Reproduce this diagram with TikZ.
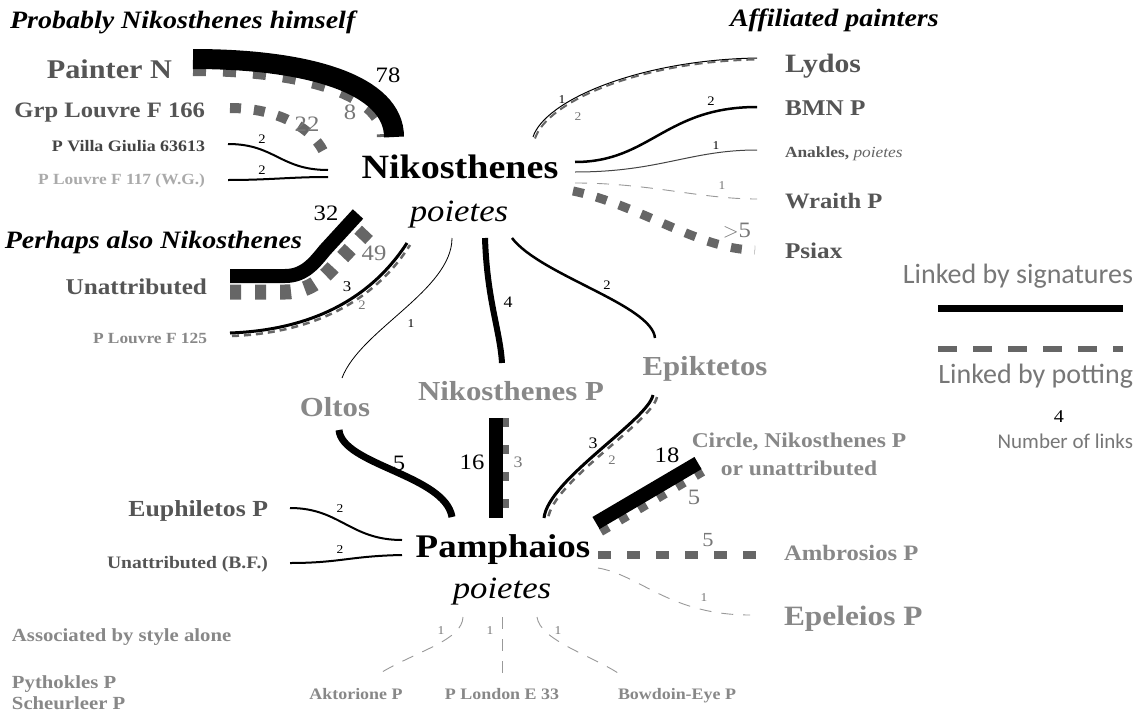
\documentclass[tikz,border=0pt]{standalone}
\usepackage{fontspec}
\setmainfont{Liberation Serif}[FakeStretch=1.12]
\newfontfamily\legendfont{Carlito}
\newcommand\fsz[1]{\fontsize{#1}{#1}\selectfont}
\definecolor{tdark}{HTML}{555555}
\definecolor{tmid}{HTML}{888888}
\definecolor{tlight}{HTML}{AAAAAA}
\definecolor{tsmall}{HTML}{444444}
\definecolor{potgray}{HTML}{666666}
\definecolor{thingray}{HTML}{999999}
\definecolor{numgray}{HTML}{777777}
\begin{document}
\begin{tikzpicture}[x=1pt,y=-1pt,
  every node/.style={inner sep=0pt,outer sep=0pt},
  sig/.style={draw=black,line width=#1},
  pot/.style={draw=potgray,line width=#1},
  thin dash/.style={draw=thingray,line width=0.9,dash pattern=on 12pt off 10pt},
  hdr/.style={font=\bfseries\itshape\fsz{25},text=black},
  big/.style={font=\bfseries\fsz{#1}},
  numb/.style={font=\fsz{#1},text=black},
  numg/.style={font=\fsz{#1},text=numgray},
  leg/.style={font=\legendfont\fsz{#1},text=numgray}]
\useasboundingbox[fill=white] (0,0) rectangle (1140,712);

% ---------- text nodes ----------
\node[hdr,anchor=base west] (h1) at (10,28) {Probably Nikosthenes himself};
\node[hdr,anchor=base west] (h2) at (730,27) {Affiliated painters};
\node[hdr,anchor=base east] (h3) at (302,248) {Perhaps also Nikosthenes};

\node[big=27,text=tdark,anchor=base east] (pn) at (172,78) {Painter N};
\node[big=22,text=tdark,anchor=base east] (gl) at (205,117) {Grp Louvre F 166};
\node[big=16,text=tsmall,anchor=base east] (vg) at (205,151) {P Villa Giulia 63613};
\node[big=15.5,text=tlight,anchor=base east] (lf) at (205,184) {P Louvre F 117 (W.G.)};
\node[big=22.5,text=tdark,anchor=base east] (un) at (207,294) {Unattributed};
\node[big=15.5,text=tmid,anchor=base east] (lf125) at (207,343) {P Louvre F 125};

\node[big=34,text=black,anchor=base] (nik) at (460,178) {Nikosthenes};
\node[font=\itshape\fsz{31},anchor=base] (nikp) at (459,221) {poietes};

\node[big=26.5,text=tdark,anchor=base west] (ly) at (785,72) {Lydos};
\node[big=22.5,text=tdark,anchor=base west] (bmn) at (785,115) {BMN P};
\node[big=15.5,text=tdark,anchor=base west] (ana) at (785,157) {Anakles, {\mdseries\itshape\color{potgray}poietes}};
\node[big=22,text=tdark,anchor=base west] (wr) at (785,208) {Wraith P};
\node[big=22.5,text=tdark,anchor=base west] (ps) at (785,258) {Psiax};

\node[big=27.5,text=tmid,anchor=base] (ol) at (335,416) {Oltos};
\node[big=27.5,text=tmid,anchor=base] (np) at (511,400) {Nikosthenes P};
\node[big=27.5,text=tmid,anchor=base] (ep) at (705,375) {Epiktetos};
\node[big=21,text=tmid,anchor=base,align=center] (ci) at (799,475) {Circle, Nikosthenes P\\[7pt]or unattributed};

\node[big=33,text=black,anchor=base] (pam) at (503,557) {Pamphaios};
\node[font=\itshape\fsz{31},anchor=base] (pamp) at (502,598) {poietes};

\node[big=23,text=tdark,anchor=base east] (eu) at (268,516) {Euphiletos P};
\node[big=17.5,text=tdark,anchor=base east] (ubf) at (268,568) {Unattributed (B.F.)};
\node[big=22,text=tmid,anchor=base west] (am) at (784,560) {Ambrosios P};
\node[big=28,text=tmid,anchor=base west] (epe) at (784,625) {Epeleios P};

\node[big=18.5,text=tmid,anchor=base west] (as) at (12,641) {Associated by style alone};
\node[big=18.5,text=tmid,anchor=base west] (py) at (12,688) {Pythokles P};
\node[big=18.5,text=tmid,anchor=base west] (sc) at (12,709) {Scheurleer P};
\node[big=16,text=tmid,anchor=base] (ak) at (356,699) {Aktorione P};
\node[big=16,text=tmid,anchor=base] (lo) at (502,699) {P London E 33};
\node[big=16,text=tmid,anchor=base] (bo) at (677,699) {Bowdoin-Eye P};

% legend
\node[leg=28,anchor=base east] (ls) at (1133,283) {Linked by signatures};
\node[leg=28,anchor=base east] (lp) at (1133,383) {Linked by potting};
\node[numb=18,anchor=base] (l4) at (1059,422) {4};
\node[leg=21,anchor=base east] (ln) at (1133,448) {Number of links};
\coordinate (lsA) at (938,308); \coordinate (lsB) at (1123,308);
\coordinate (lpA) at (938,349); \coordinate (lpB) at (1123,349);
\draw[sig=7] (lsA) -- (lsB);
\draw[pot=6,dash pattern=on 19pt off 16pt] (lpA) -- (lpB);

% ---------- connector end points ----------
\coordinate (pnS) at (193,59);  \coordinate (nkS) at (394,137);
\coordinate (pnP) at (193,72);  \coordinate (nkP8) at (381,137);
\coordinate (glA) at (230,108); \coordinate (nkG) at (327,162);
\coordinate (vgA) at (228,144); \coordinate (nkV) at (328,170);
\coordinate (lfA) at (228,180); \coordinate (nkL) at (328,177);
\coordinate (unS) at (230,276); \coordinate (nkU) at (358,214);
\coordinate (unP) at (230,292); \coordinate (nkU2) at (372,226);
\coordinate (fbS) at (230,333); \coordinate (nkF) at (407,243);
\coordinate (fbP) at (232,336); \coordinate (nkF2) at (410,245);
\coordinate (nkO) at (452,238); \coordinate (olN) at (342,378);
\coordinate (nkNP) at (485,238); \coordinate (npN) at (502,363);
\coordinate (nkE) at (512,238); \coordinate (epN) at (655,338);
\coordinate (nkLy) at (533,137); \coordinate (lyA) at (757,58);
\coordinate (nkLy2) at (535,138.5); \coordinate (lyA2) at (757,59.5);
\coordinate (nkB) at (575,162); \coordinate (bmA) at (757,107);
\coordinate (nkA) at (575,172); \coordinate (anA) at (757,150);
\coordinate (nkW) at (575,183); \coordinate (wrA) at (757,199);
\coordinate (nkPs) at (573,191); \coordinate (psA) at (755,250);

\coordinate (olS) at (339,430); \coordinate (pmO) at (452,517);
\coordinate (npS) at (496,418); \coordinate (pmN) at (496,518);
\coordinate (npP) at (506,418); \coordinate (pmN2) at (506,518);
\coordinate (epS) at (653,395); \coordinate (pmE) at (544,518);
\coordinate (epP) at (657,397); \coordinate (pmE2) at (548,519);
\coordinate (ciS) at (698,463); \coordinate (pmC) at (596,523);
\coordinate (ciP) at (703,472); \coordinate (pmC2) at (601,532);
\coordinate (pmA) at (598,555); \coordinate (amA) at (757,555);
\coordinate (pmEp) at (598,568); \coordinate (epeA) at (750,615);
\coordinate (euA) at (290,508); \coordinate (pmEu) at (402,540);
\coordinate (ubA) at (290,563); \coordinate (pmU) at (402,555);
\coordinate (pmAk) at (463,617); \coordinate (akA) at (382,672);
\coordinate (pmL) at (502,617); \coordinate (loA) at (502,682);
\coordinate (pmB) at (537,617); \coordinate (boA) at (618,673);

% ---------- connectors: Nikosthenes, left ----------
\draw[pot=8,dash pattern=on 13pt off 17pt] (pnP) .. controls (300,72) and (381,95) .. (nkP8);
\draw[sig=20] (pnS) .. controls (310,59) and (394,85) .. (nkS);
\node[numb=22] (n78) at (388,75) {78};
\node[numg=22] (n8) at (350,112) {8};

\draw[pot=10,dash pattern=on 11pt off 13pt] (glA) .. controls (285,108) and (322,135) .. (nkG);
\node[numg=22] (n22) at (307,124) {22};

\draw[sig=2] (vgA) .. controls (275,144) and (280,170) .. (nkV);
\node[numb=13] (nvg) at (262,139) {2};
\draw[sig=2] (lfA) .. controls (270,180) and (290,177) .. (nkL);
\node[numb=13] (nlf) at (262,170) {2};

\draw[pot=15,dash pattern=on 11pt off 14pt] (unP) -- (285,292) .. controls (312,292) and (325,276) .. (337,263) -- (nkU2);
\draw[sig=14] (unS) -- (285,276) .. controls (305,276) and (315,262) .. (325,250) -- (nkU);
\node[numb=22] (n32) at (326,213) {32};
\node[numg=22] (n49) at (374,253) {49};

\draw[pot=2.5,dash pattern=on 7pt off 5pt] (fbP) .. controls (312,333) and (374,302) .. (nkF2);
\draw[sig=3] (fbS) .. controls (310,330) and (370,300) .. (nkF);
\node[numb=15] (n3a) at (347,287) {3};
\node[numg=13] (n2a) at (362,305) {2};

% ---------- Nikosthenes, down ----------
\draw[sig=0.8] (nkO) .. controls (452,290) and (360,330) .. (olN);
\node[numb=12] (n1o) at (411,324) {1};
\draw[sig=6] (nkNP) .. controls (487,300) and (500,330) .. (npN);
\node[numb=16] (n4) at (508,302) {4};
\draw[sig=2.5] (nkE) .. controls (540,275) and (652,305) .. (epN);
\node[numb=13] (n2e) at (607,285) {2};

% ---------- Nikosthenes, right ----------
\draw[sig=1] (nkLy) .. controls (545,100) and (640,60) .. (lyA);
\draw[pot=2,dash pattern=on 8pt off 5pt] (nkLy2) .. controls (547,101.5) and (640,61.5) .. (lyA2);
\node[numb=12] (n1l) at (562,100) {1};
\node[numg=12] (n2l) at (578,117) {2};
\draw[sig=2.5] (nkB) .. controls (650,162) and (665,107) .. (bmA);
\node[numb=13] (n2b) at (711,101) {2};
\draw[draw=tsmall,line width=1] (nkA) .. controls (660,172) and (690,150) .. (anA);
\node[numb=12] (n1a) at (716,146) {1};
\draw[thin dash] (nkW) .. controls (650,183) and (700,199) .. (wrA);
\node[numg=12] (n1w) at (722,186) {1};
\draw[pot=9,dash pattern=on 11pt off 13pt] (nkPs) .. controls (640,205) and (700,250) .. (psA);
\node[numg=22] (n5p) at (737,231) {$>$5};

% ---------- Pamphaios ----------
\draw[sig=7] (olS) .. controls (342,465) and (445,475) .. (pmO);
\node[numb=22] (n5o) at (399,463) {5};

\draw[pot=6,dash pattern=on 9pt off 18pt] (npP) -- (pmN2);
\draw[sig=14] (npS) -- (pmN);
\node[numb=22] (n16) at (472,462) {16};
\node[numg=16] (n3n) at (518,462) {3};

\draw[pot=2.5,dash pattern=on 7pt off 6pt] (epP) .. controls (652,422) and (552,482) .. (pmE2);
\draw[sig=3] (epS) .. controls (648,420) and (548,480) .. (pmE);
\node[numb=16] (n3e) at (593,443) {3};
\node[numg=13] (n2p) at (612,460) {2};

\draw[pot=8,dash pattern=on 9pt off 13pt] (pmC2) -- (ciP);
\draw[sig=14] (pmC) -- (ciS);
\node[numb=22] (n18) at (667,455) {18};
\node[numg=22] (n5c) at (694,497) {5};

\draw[pot=8,dash pattern=on 13pt off 16pt] (pmA) -- (amA);
\node[numg=20] (n5a) at (708,540) {5};

\draw[thin dash] (pmEp) .. controls (640,575) and (670,615) .. (epeA);
\node[numg=12] (n1ep) at (704,598) {1};

\draw[sig=2] (euA) .. controls (340,508) and (350,540) .. (pmEu);
\node[numb=12] (n2eu) at (340,509) {2};
\draw[sig=2] (ubA) .. controls (340,563) and (350,556) .. (pmU);
\node[numb=12] (n2ub) at (340,550) {2};

\draw[thin dash] (pmAk) .. controls (462,640) and (420,650) .. (akA);
\node[numg=12] (n1ak) at (441,631) {1};
\draw[thin dash] (pmL) -- (loA);
\node[numg=12] (n1lo) at (490,631) {1};
\draw[thin dash] (pmB) .. controls (540,640) and (590,655) .. (boA);
\node[numg=12] (n1bo) at (558,631) {1};
\end{tikzpicture}
\end{document}
